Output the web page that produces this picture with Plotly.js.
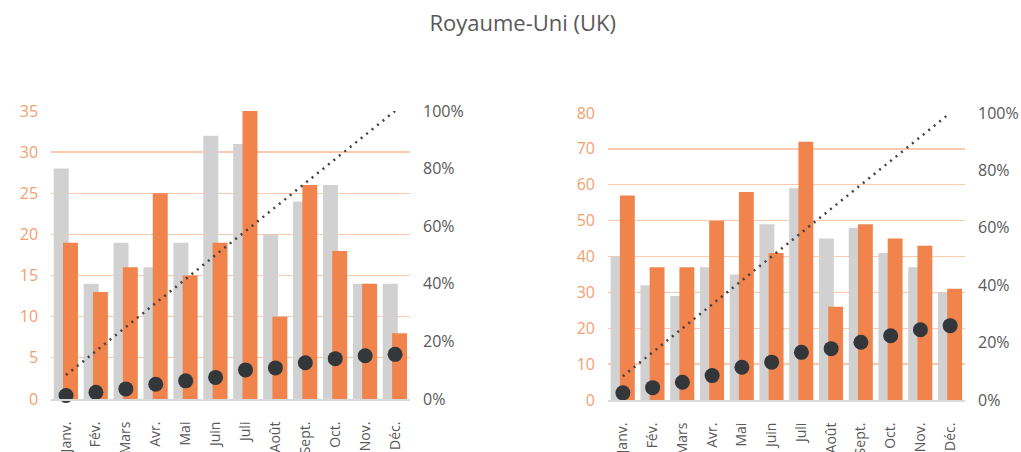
<!DOCTYPE html>
<html>
<head>
<meta charset="utf-8">
<script src="https://cdn.plot.ly/plotly-3.0.1.min.js"></script>
<style>html,body{margin:0;padding:0;background:#fff;}#chart{width:1021px;height:452px;}</style>
</head>
<body>
<div id="chart"></div>
<script>
var months = ["Janv.", "Fév.", "Mars", "Avr.", "Mai", "Juin", "Juli", "Août", "Sept.", "Oct.", "Nov.", "Déc."];

// Left chart
var leftGray   = [28, 14, 19, 16, 19, 32, 31, 20, 24, 26, 14, 14];
var leftOrange = [19, 13, 16, 25, 15, 19, 35, 10, 26, 18, 14, 8];
var leftDots   = [1.2, 2.3, 3.5, 5.1, 6.3, 7.5, 10.1, 10.8, 12.6, 14.0, 15.0, 15.5];

// Right chart
var rightGray   = [40, 32, 29, 37, 35, 49, 59, 45, 48, 41, 37, 30];
var rightOrange = [57, 37, 37, 50, 58, 41, 72, 26, 49, 45, 43, 31];
var rightDots   = [2.5, 4.3, 6.2, 8.5, 11.4, 13.2, 16.6, 17.9, 20.1, 22.4, 24.5, 25.9];

// Dotted cumulative line (both charts)
var cumLine = [8.3, 16.7, 25, 33.3, 41.7, 50, 58.3, 66.7, 75, 83.3, 91.7, 100];

var leftTicks = [0, 5, 10, 15, 20, 25, 30, 35];
var rightTicks = [0, 10, 20, 30, 40, 50, 60, 70, 80];
var pctTicks = [0, 20, 40, 60, 80, 100];
var pctLabels = ["0%", "20%", "40%", "60%", "80%", "100%"];

var GRAY = "#D0D1D0", ORANGE = "#F0844C", DARK = "#33373A";

function group(xa, yaBar, yaPct, gray, orange, dots) {
  return [
    {type: "bar", x: months, y: gray, xaxis: xa, yaxis: yaBar, width: 0.5, offset: -0.41,
     marker: {color: GRAY}, hoverinfo: "skip"},
    {type: "bar", x: months, y: orange, xaxis: xa, yaxis: yaBar, width: 0.5, offset: -0.1,
     marker: {color: ORANGE}, hoverinfo: "skip"},
    {type: "scatter", mode: "lines", x: months, y: cumLine, xaxis: xa, yaxis: yaPct,
     line: {color: "#404040", width: 2.5, dash: "2px,5px"}, hoverinfo: "skip"},
    {type: "scatter", mode: "markers", x: months, y: dots, xaxis: xa, yaxis: yaPct,
     marker: {color: DARK, size: 15}, cliponaxis: false, hoverinfo: "skip"}
  ];
}

var data = [].concat(
  group("x", "y", "y2", leftGray, leftOrange, leftDots),
  group("x2", "y3", "y4", rightGray, rightOrange, rightDots)
);

var fontFam = "Open Sans, sans-serif";

function xAxis(domain, anchor) {
  return {
    domain: domain, anchor: anchor, type: "category", range: [-0.5, 11.5],
    tickangle: -90, tickfont: {family: fontFam, size: 14, color: "#595959"},
    showline: true, linecolor: "#D9D9D9", linewidth: 2,
    showgrid: false, zeroline: false, ticks: "", ticklabelstandoff: 15,
    fixedrange: true
  };
}
function barAxis(domain, anchor, range, ticks) {
  return {
    domain: domain, anchor: anchor, range: range, tickvals: ticks,
    tickfont: {family: fontFam, size: 16, color: "#F4A070"},
    showgrid: true, gridcolor: "#FBC9AC", gridwidth: 1.3,
    zeroline: false, showline: false, ticks: "", ticklabelstandoff: 12,
    fixedrange: true
  };
}
function pctAxis(domain, anchor, overlay) {
  return {
    domain: domain, anchor: anchor, overlaying: overlay, side: "right",
    range: [0, 100], tickvals: pctTicks, ticktext: pctLabels,
    tickfont: {family: fontFam, size: 16, color: "#595959"},
    showgrid: false, zeroline: false, showline: false, ticks: "", ticklabelstandoff: 12,
    fixedrange: true
  };
}

var layout = {
  width: 1021, height: 452,
  margin: {l: 0, r: 0, t: 110, b: 51},
  paper_bgcolor: "#ffffff", plot_bgcolor: "rgba(0,0,0,0)",
  showlegend: false, barmode: "overlay",
  font: {family: fontFam},
  title: {text: "Royaume-Uni (UK)", x: 0.512, xanchor: "center", y: 0.948, yanchor: "middle",
          xref: "paper", yref: "container",
          font: {family: fontFam, size: 22, color: "#595959"}},
  xaxis: xAxis([0.0500, 0.4016], "y"),
  yaxis: barAxis([0.0069, 0.9966], "x", [0, 35], leftTicks),
  yaxis2: pctAxis([0.0069, 0.9966], "x", "y"),
  xaxis2: xAxis([0.5955, 0.9452], "y3"),
  yaxis3: barAxis([0.0034, 0.9897], "x2", [0, 80], rightTicks),
  yaxis4: pctAxis([0.0034, 0.9897], "x2", "y3")
};

Plotly.newPlot("chart", data, layout, {staticPlot: true, displayModeBar: false});
</script>
</body>
</html>
